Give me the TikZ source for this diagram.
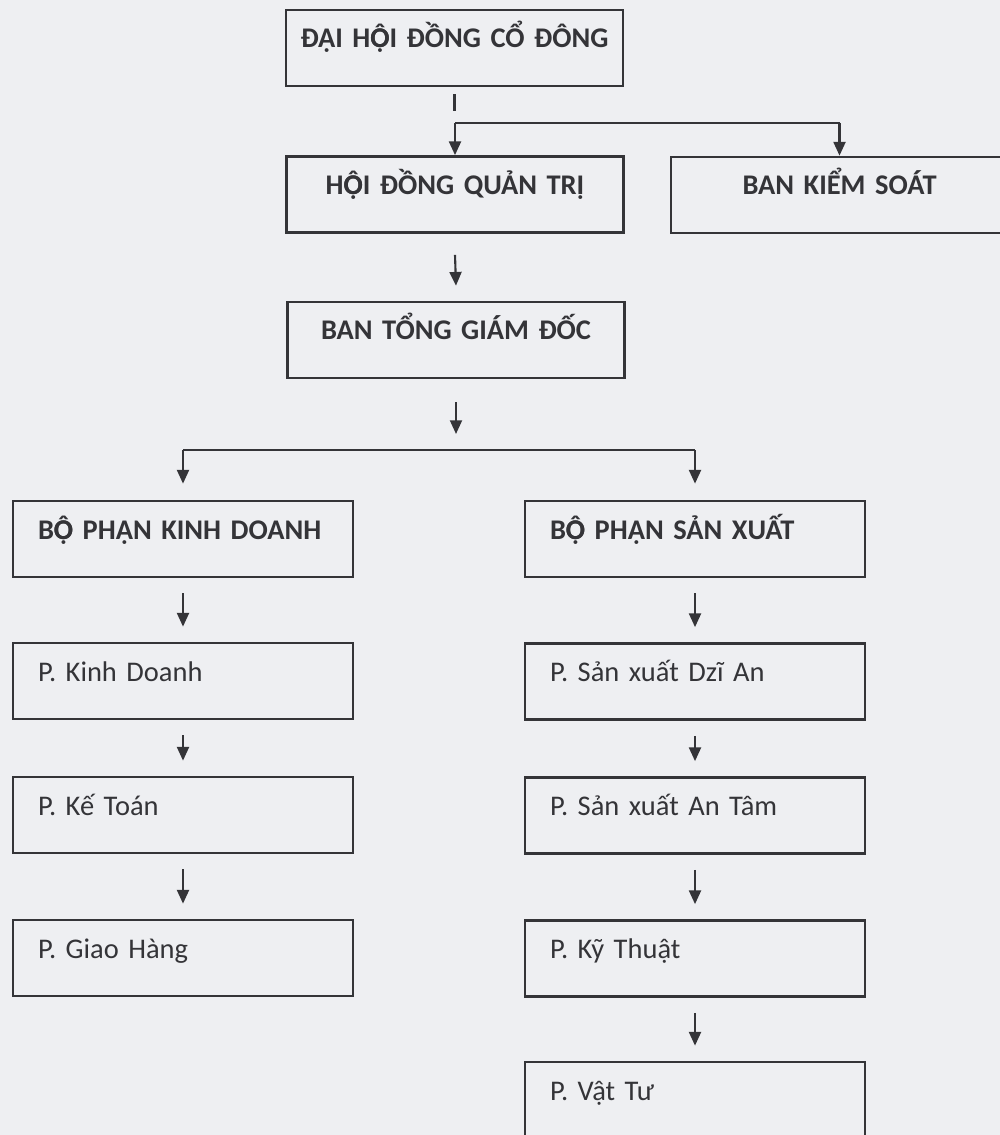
\documentclass[tikz,border=0pt]{standalone}
\usepackage{fontspec}
\setmainfont{Carlito}
\usetikzlibrary{arrows.meta}
\definecolor{paper}{RGB}{238,239,242}
\definecolor{ink}{RGB}{52,52,56}
% O with circumflex and dot below, stacked by hand
\newcommand\Ocd{\ooalign{Ọ\cr Ô\cr}}
\tikzset{
  unit/.style={draw=ink, line width=0.8pt, text=ink, inner ysep=0pt,
    text height=10.8pt, text depth=10.8pt, font=\fontsize{8.1}{10}\selectfont},
  headbox/.style={unit, font=\fontsize{8.1}{10}\selectfont\bfseries,
    inner xsep=1mm, text width=3.17cm, align=center},
  deptbox/.style={unit, inner xsep=2.5mm, text width=2.9cm, align=left},
  partbox/.style={deptbox, font=\fontsize{8.1}{10}\selectfont\bfseries},
  conn/.style={draw=ink, line width=0.6pt},
  arr/.style={conn, -{Triangle[length=3.9pt,width=3.4pt]}},
}
\begin{document}
\begin{tikzpicture}
    \fill[paper] (0,0) rectangle (10,-11.35);
    \useasboundingbox (0,0) rectangle (10,-11.35);
    % upper levels
    \node[headbox] (dhdcd) at (4.545,-0.48) {ĐẠI H\Ocd I ĐỒNG CỔ ĐÔNG};
    \node[headbox] (hdqt) at (4.55,-1.945) {H\Ocd I ĐỒNG QUẢN TRỊ};
    \node[headbox] (bks) at (8.395,-1.95) {BAN KIỂM SOÁT};
    \node[headbox] (btgd) at (4.56,-3.40) {BAN TỔNG GIÁM ĐỐC};
    % two branches
    \node[partbox] (bpkd) at (1.83,-5.39) {B\Ocd{} PHẬN KINH DOANH};
    \node[partbox] (bpsx) at (6.95,-5.39) {B\Ocd{} PHẬN SẢN XUẤT};
    \node[deptbox] (pkd) at (1.83,-6.81) {P. Kinh Doanh};
    \node[deptbox] (pkt) at (1.83,-8.15) {P. Kế Toán};
    \node[deptbox] (pgh) at (1.83,-9.58) {P. Giao Hàng};
    \node[deptbox] (psxda) at (6.95,-6.815) {P. Sản xuất Dzĩ An};
    \node[deptbox] (psxat) at (6.95,-8.155) {P. Sản xuất An Tâm};
    \node[deptbox] (pkyt) at (6.95,-9.585) {P. Kỹ Thuật};
    \node[deptbox] (pvt) at (6.95,-11.0) {P. Vật Tư};
    \coordinate (split1) at (4.55,-1.23);
    \coordinate (split2) at (4.56,-4.50);
    % connectors
    \draw[conn] ([yshift=-0.7mm]dhdcd.south) -- ([yshift=-2.4mm]dhdcd.south);
    \draw[conn] (split1) -- (split1 -| bks.north);
    \draw[arr] (split1) -- (hdqt.north);
    \draw[arr] (split1 -| bks.north) -- (bks.north);
    \draw[arr] ([yshift=-2.1mm]hdqt.south) -- ([yshift=1.5mm]btgd.north);
    \draw[arr] ([yshift=-2.3mm]btgd.south) -- ([yshift=1.6mm]split2);
    \draw[conn] (split2 -| bpkd.north) -- (split2 -| bpsx.north);
    \draw[arr] (split2 -| bpkd.north) -- ([yshift=1.6mm]bpkd.north);
    \draw[arr] (split2 -| bpsx.north) -- ([yshift=1.6mm]bpsx.north);
    \draw[arr] ([yshift=-1.5mm]bpkd.south) -- ([yshift=1.5mm]pkd.north);
    \draw[arr] ([yshift=-1.5mm]pkd.south) -- ([yshift=1.5mm]pkt.north);
    \draw[arr] ([yshift=-1.5mm]pkt.south) -- ([yshift=1.5mm]pgh.north);
    \draw[arr] ([yshift=-1.5mm]bpsx.south) -- ([yshift=1.5mm]psxda.north);
    \draw[arr] ([yshift=-1.5mm]psxda.south) -- ([yshift=1.5mm]psxat.north);
    \draw[arr] ([yshift=-1.5mm]psxat.south) -- ([yshift=1.5mm]pkyt.north);
    \draw[arr] ([yshift=-1.5mm]pkyt.south) -- ([yshift=1.5mm]pvt.north);
  \end{tikzpicture}
\end{document}
